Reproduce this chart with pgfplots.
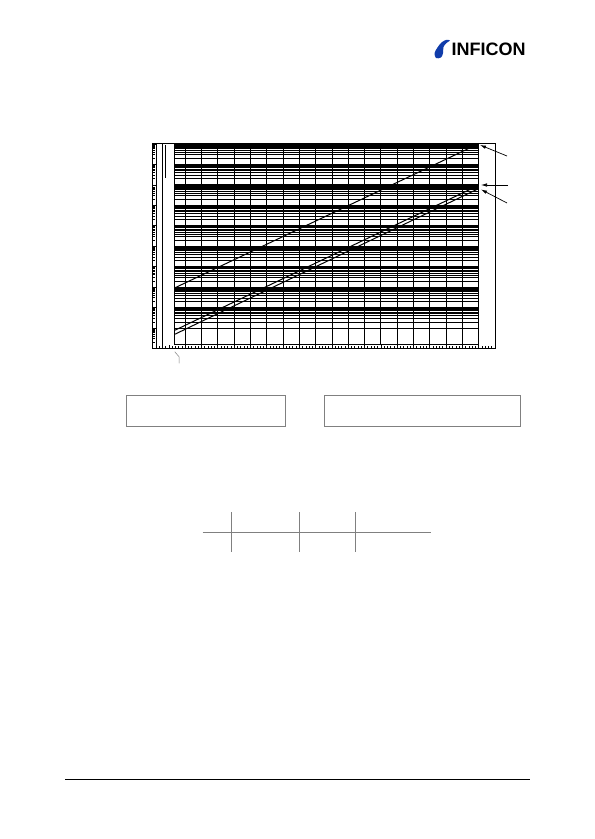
\documentclass[border=0pt]{standalone}
\usepackage{pgfplots}
\pgfplotsset{compat=1.18}
\usepackage{fontspec}
\setmainfont{Liberation Sans}
\usetikzlibrary{arrows.meta}
\definecolor{boxgray}{RGB}{128,128,128}
\definecolor{infiblue}{RGB}{16,60,170}

\begin{document}
\begin{tikzpicture}
\path[use as bounding box] (0pt,0pt) rectangle (595pt,839pt);

% outer frame with the tick rulers
\begin{axis}[
  name=outer,
  at={(152.6pt,695pt)}, anchor=north west,
  scale only axis, width=342.4pt, height=204.5pt,
  xmin=0, xmax=21,
  ymode=log, ymin=1e-10, ymax=1,
  xtick={0,...,21}, minor x tick num=4,
  ytick={1e-10,1e-9,1e-8,1e-7,1e-6,1e-5,1e-4,1e-3,1e-2,1e-1,1},
  xticklabels=\empty, yticklabels=\empty,
  xtick pos=bottom, ytick pos=left,
  tick align=inside,
  major tick length=3.5pt, minor tick length=2.4pt,
  every tick/.style={black, line width=0.7pt},
  axis line style={black, line width=1pt},
]
\end{axis}

% inner grid with the three curves
\begin{axis}[
  name=inner,
  at={(174.3pt,695pt)}, anchor=north west,
  scale only axis, width=304.2pt, height=200.5pt,
  xmin=1.3309, xmax=19.988,
  ymode=log, ymin=1.57e-10, ymax=1,
  xtick={2,...,19},
  ytick={1e-9,1e-8,1e-7,1e-6,1e-5,1e-4,1e-3,1e-2,1e-1,1},
  xticklabels=\empty, yticklabels=\empty,
  major tick length=0pt, minor tick length=0pt,
  grid=both,
  major grid style={black, line width=0.9pt},
  minor grid style={black, line width=0.65pt},
  axis line style={black, line width=0.9pt},
  clip=false,
]
\addplot[black, line width=1pt] coordinates {(1.37,9.3e-8) (19.9,0.946)};
\addplot[black, line width=1pt] coordinates {(1.37,7.85e-10) (19.68,7.24e-3)};
\addplot[black, line width=1pt] coordinates {(1.37,5.0e-10) (19.88,5.96e-3)};
\end{axis}

\begin{scope}[x=1pt,y=1pt]
% strip at the left of the grid
\draw[black, line width=0.9pt] (156.7,695) -- (156.7,490);
\draw[black, line width=0.9pt] (162.3,695) -- (162.3,490);
\draw[black, line width=0.9pt] (165.5,694) -- (165.5,661);
% leader below the chart
\draw[boxgray, line width=0.5pt] (174.7,487.3) -- (179,482.3) -- (179,475.7);

% arrows at the right
\draw[-{Latex[length=6pt,width=3.5pt]}, line width=0.7pt] (507,683) -- (480,694);
\draw[-{Latex[length=6pt,width=3.5pt]}, line width=0.7pt] (508,654) -- (481,654);
\draw[-{Latex[length=6pt,width=3.5pt]}, line width=0.7pt] (507,636) -- (481,649.5);

% two empty boxes
\draw[boxgray, line width=0.9pt] (126.7,444) rectangle (285.3,412.7);
\draw[boxgray, line width=0.9pt] (324.3,444) rectangle (520.7,412.7);

% table rules
\draw[boxgray, line width=0.9pt] (202.7,306.7) -- (430.7,306.7);
\foreach \xx in {231.3,299.3,355.3}
  \draw[boxgray, line width=0.9pt] (\xx,326.7) -- (\xx,286.7);

% footer rule
\draw[black, line width=1pt] (65,59) -- (530,59);

% logo
\fill[infiblue] plot[smooth cycle, tension=0.6] coordinates {
  (436,781) (434.6,786) (437.5,791.5) (441.5,796.5) (446,799) (450,798.5)
  (446.5,796) (443.5,792) (443,786) (441,781.5)};
\node[anchor=base west, inner sep=0pt] at (451.5,783.5)
  {\bfseries\fontsize{18}{18}\selectfont INFICON};
\end{scope}

\end{tikzpicture}
\end{document}
